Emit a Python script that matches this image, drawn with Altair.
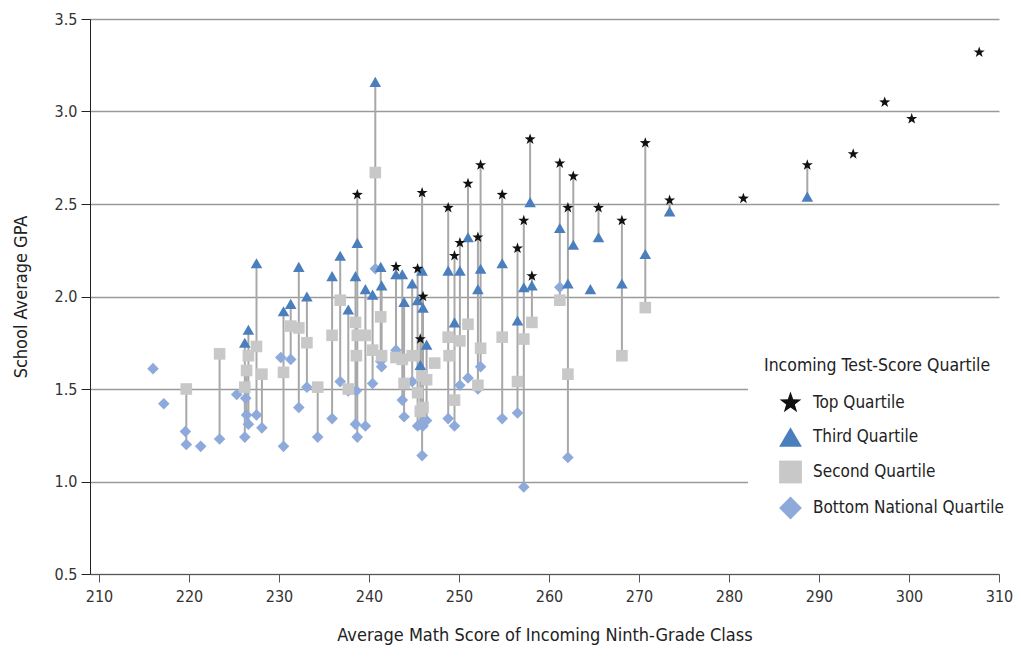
import altair as alt
import pandas as pd

# School-level data: incoming math score (x) and school average GPA by quartile
scores = [216.0, 217.2, 219.7, 219.6, 221.3, 223.4, 225.3, 226.2, 226.6, 226.4,
          226.3, 227.5, 228.1, 230.2, 230.5, 231.3, 232.2, 233.1, 234.3, 235.9,
          236.8, 237.7, 238.5, 238.6, 238.7, 239.6, 240.4, 240.7, 241.3, 241.4,
          243.0, 243.7, 243.9, 244.8, 245.4, 245.9, 246.0, 245.7, 246.4, 247.3,
          248.8, 248.9, 249.5, 250.1, 251.0, 252.1, 252.4, 254.8, 256.5, 257.2,
          257.9, 258.1, 261.2, 262.1, 262.7, 264.6, 265.5, 268.1, 270.7, 273.4,
          281.6, 288.7, 293.8, 297.3, 300.3, 307.8]
top_q = [None, None, None, None, None, None, None, None, None, None,
         None, None, None, None, None, None, None, None, None, None,
         None, None, None, None, 2.55, None, None, None, None, None,
         2.16, None, None, None, 2.15, 2.56, 2.00, 1.77, None, None,
         2.48, None, 2.22, 2.29, 2.61, 2.32, 2.71, 2.55, 2.26, 2.41,
         2.85, 2.11, 2.72, 2.48, 2.65, None, 2.48, 2.41, 2.83, 2.52,
         2.53, 2.71, 2.77, 3.05, 2.96, 3.32]
third_q = [None, None, None, None, None, None, None, 1.75, 1.82, None,
           None, 2.18, None, None, 1.92, 1.96, 2.16, 2.00, None, 2.11,
           2.22, 1.93, 2.11, None, 2.29, 2.04, 2.01, 3.16, 2.16, 2.06,
           2.12, 2.12, 1.97, 2.07, 1.98, 2.14, 1.94, 1.63, 1.74, None,
           2.14, None, 1.86, 2.14, 2.32, 2.04, 2.15, 2.18, 1.87, 2.05,
           2.51, 2.06, 2.37, 2.07, 2.28, 2.04, 2.32, 2.07, 2.23, 2.46,
           None, 2.54, None, None, None, None]
second_q = [None, None, 1.50, None, None, 1.69, None, 1.51, 1.68, 1.60,
            None, 1.73, 1.58, None, 1.59, 1.84, 1.83, 1.75, 1.51, 1.79,
            1.98, 1.50, 1.86, 1.68, 1.79, 1.79, 1.71, 2.67, 1.89, 1.68,
            1.67, 1.66, 1.53, 1.68, 1.48, 1.57, 1.40, 1.38, 1.55, 1.64,
            1.78, 1.68, 1.44, 1.76, 1.85, 1.52, 1.72, 1.78, 1.54, 1.77,
            None, 1.86, 1.98, 1.58, None, None, None, 1.68, 1.94, None,
            None, None, None, None, None, None]
bottom_q = [1.61, 1.42, 1.20, 1.27, 1.19, 1.23, 1.47, 1.24, 1.31, 1.36,
            1.45, 1.36, 1.29, 1.67, 1.19, 1.66, 1.40, 1.51, 1.24, 1.34,
            1.54, 1.49, 1.31, 1.49, 1.24, 1.30, 1.53, 2.15, 1.65, 1.62,
            1.71, 1.44, 1.35, 1.54, 1.30, 1.14, 1.30, 1.31, 1.33, None,
            1.34, None, 1.30, 1.52, 1.56, 1.50, 1.62, 1.34, 1.37, 0.97,
            None, None, 2.05, 1.13, None, None, None, None, None, None,
            None, None, None, None, None, None]

quartiles = ["Top Quartile", "Third Quartile", "Second Quartile", "Bottom National Quartile"]
draw_order = ["Bottom National Quartile", "Second Quartile", "Third Quartile", "Top Quartile"]
series = {"Top Quartile": top_q, "Third Quartile": third_q,
          "Second Quartile": second_q, "Bottom National Quartile": bottom_q}

rows = []
for q in draw_order:
    for i, (s, v) in enumerate(zip(scores, series[q])):
        if v is not None:
            rows.append({"school": i, "score": s, "gpa": v, "quartile": q})
df = pd.DataFrame(rows)

FONT = "Liberation Sans Narrow, DejaVu Sans Condensed, Liberation Sans, Arial, sans-serif"
STAR = ("M0,-1L0.235,-0.324L0.951,-0.309L0.38,0.124L0.588,0.809L0,0.4"
        "L-0.588,0.809L-0.38,0.124L-0.951,-0.309L-0.235,-0.324Z")

xscale = alt.Scale(domain=[209, 310], nice=False, zero=False)
yscale = alt.Scale(domain=[0.5, 3.5], nice=False, zero=False)

base = alt.Chart(df)

rules = base.transform_aggregate(
    lo="min(gpa)", hi="max(gpa)", groupby=["school", "score"]
).mark_rule(color="#a8a8a8", strokeWidth=2).encode(
    x=alt.X("score:Q", scale=xscale,
            axis=alt.Axis(values=list(range(210, 311, 10)), format="d",
                          title="Average Math Score of Incoming Ninth-Grade Class",
                          grid=False, tickSize=8, domainColor="#555",
                          tickColor="#555", labelPadding=6, titlePadding=22,
                          labelFlush=False)),
    y=alt.Y("lo:Q", scale=yscale,
            axis=alt.Axis(values=[0.5, 1.0, 1.5, 2.0, 2.5, 3.0, 3.5], format=".1f",
                          title="School Average GPA", grid=True,
                          gridColor="#9a9a9a", gridWidth=1.3, tickSize=9,
                          domainColor="#222", tickColor="#222",
                          labelPadding=4, titlePadding=24)),
    y2="hi:Q",
)

points = base.mark_point(filled=True, opacity=1, size=135).encode(
    x=alt.X("score:Q", scale=xscale),
    y=alt.Y("gpa:Q", scale=yscale),
    color=alt.Color("quartile:N",
                    scale=alt.Scale(domain=quartiles,
                                    range=["#111111", "#4a7ebd", "#c8c8c8", "#8eaadb"]),
                    legend=alt.Legend(title="Incoming Test-Score Quartile",
                                      orient="none", legendX=658, legendY=322,
                                      fillColor="white", padding=16,
                                      symbolSize=520, symbolOffset=14,
                                      labelOffset=10, rowPadding=12,
                                      titlePadding=16, titleFontSize=17.5,
                                      titleFontWeight="normal", labelFontSize=17,
                                      titleColor="#222", labelColor="#222",
                                      titleFont=FONT, labelFont=FONT,
                                      labelLimit=400, titleLimit=400)),
    shape=alt.Shape("quartile:N",
                    scale=alt.Scale(domain=quartiles,
                                    range=[STAR, "triangle-up", "square", "diamond"])),
)

chart = alt.layer(rules, points).properties(
    width=909, height=555,
    autosize=alt.AutoSizeParams(type="none"),
    padding={"left": 82, "top": 11, "right": 14, "bottom": 76},
).configure_axis(
    labelFont=FONT, titleFont=FONT, labelFontSize=16, titleFontSize=18,
    labelColor="#333", titleColor="#222", titleFontWeight="normal",
).configure_view(stroke=None)

chart.save("out.html", embed_options={"renderer": "svg", "actions": False})
